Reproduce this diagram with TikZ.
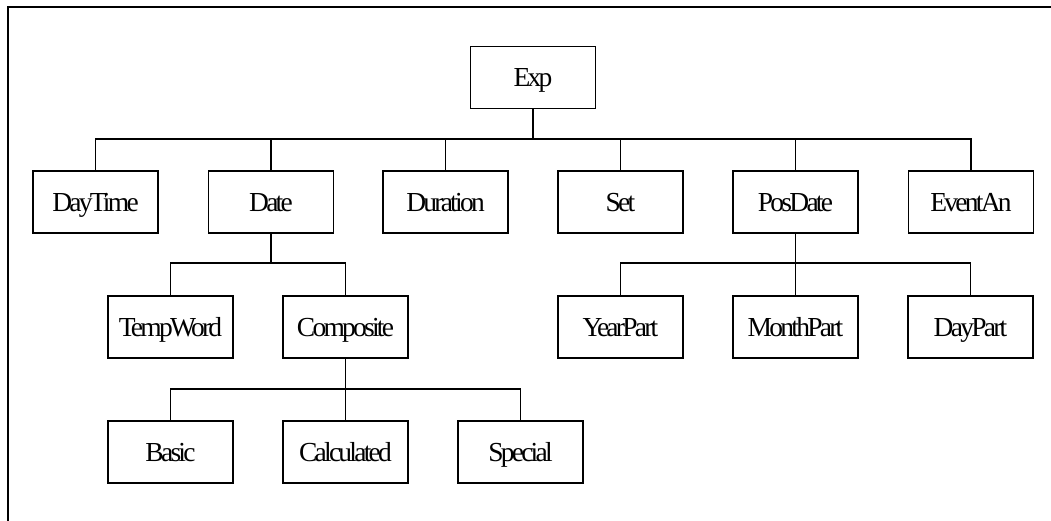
\documentclass[tikz,border=0pt]{standalone}
\usepackage{fontspec}
\setmainfont{Liberation Serif}[LetterSpace=-10]
\begin{document}
\begin{tikzpicture}[x=1pt,y=-1pt,
  box/.style={draw, line width=1.6pt, rectangle, minimum width=125pt, minimum height=62pt,
    inner sep=0pt, text height=19pt, text depth=0pt, font=\fontsize{27.5}{27.5}\selectfont},
  wire/.style={line width=1.6pt}]
\useasboundingbox (0,0) rectangle (1051,521);
% partial frame along the top and left edges
\draw[line width=2.2pt] (8,521) -- (8,7) -- (1051,7);

% tree nodes
\node[box] (exp) at (533,77.5) {Exp};
\node[box] (daytime) at (95.5,202) {DayTime};
\node[box] (date) at (271,202) {Date};
\node[box] (duration) at (445.5,202) {Duration};
\node[box] (set) at (620.5,202) {Set};
\node[box] (posdate) at (795.5,202) {PosDate};
\node[box] (eventan) at (971,202) {EventAn};
\node[box] (tempword) at (170.5,327) {TempWord};
\node[box] (composite) at (345.5,327) {Composite};
\node[box] (yearpart) at (620.5,327) {YearPart};
\node[box] (monthpart) at (795.5,327) {MonthPart};
\node[box] (daypart) at (970.5,327) {DayPart};
\node[box] (basic) at (170.5,452) {Basic};
\node[box] (calculated) at (345.5,452) {Calculated};
\node[box] (special) at (520.5,452) {Special};

% bus levels
\coordinate (busA) at (0,139);
\coordinate (busB) at (0,263);
\coordinate (busC) at (0,389);

% connectors
\foreach \c in {daytime,date,duration,set,posdate,eventan}
  \draw[wire] (exp.south) -- (exp.south |- busA) -| (\c.north);
\foreach \c in {tempword,composite}
  \draw[wire] (date.south) -- (date.south |- busB) -| (\c.north);
\foreach \c in {yearpart,monthpart,daypart}
  \draw[wire] (posdate.south) -- (posdate.south |- busB) -| (\c.north);
\foreach \c in {basic,calculated,special}
  \draw[wire] (composite.south) -- (composite.south |- busC) -| (\c.north);
\end{tikzpicture}
\end{document}
